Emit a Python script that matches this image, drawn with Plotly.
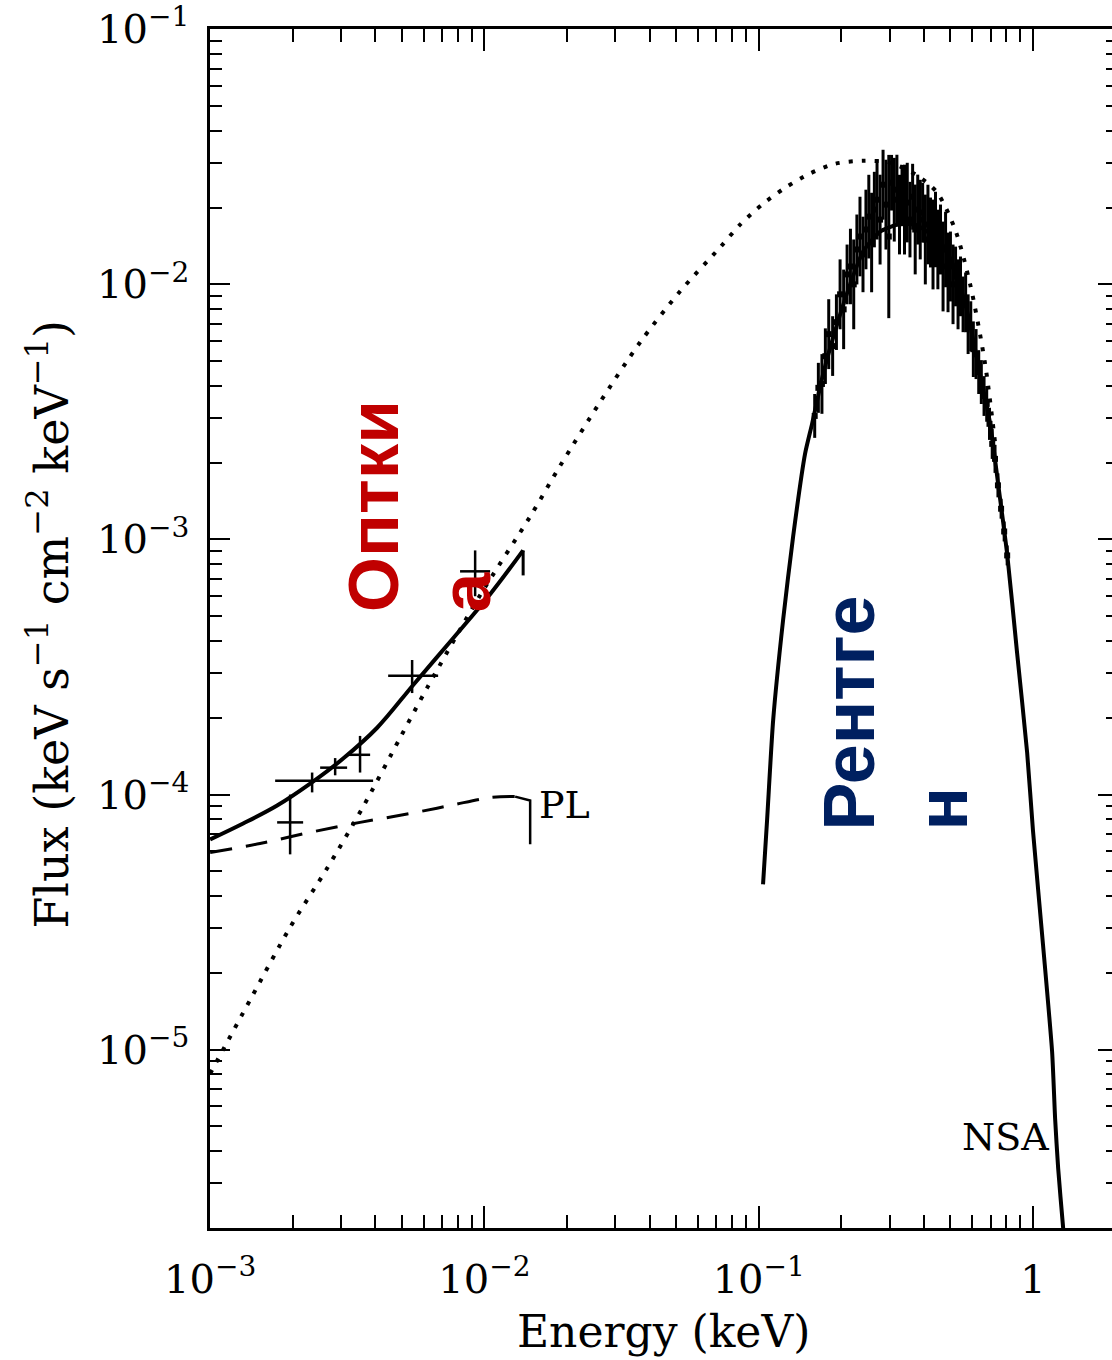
import numpy as np
import plotly.graph_objects as go

# ---------------- data (energy in keV, flux in keV s^-1 cm^-2 keV^-1) ----------------
# optical photometry points with bin / error bounds
opt_energy = [2.354e-3, 1.957e-3, 2.856e-3, 3.52e-3, 5.45e-3, 9.25e-3]
opt_energy_lo = [1.726e-3, 1.755e-3, 2.518e-3, 3.158e-3, 4.457e-3, 8.15e-3]
opt_energy_hi = [3.928e-3, 2.183e-3, 3.158e-3, 3.831e-3, 6.78e-3, 1.049e-2]
opt_flux = [1.134e-4, 7.78e-5, 1.275e-4, 1.432e-4, 2.92e-4, 7.5e-4]
opt_flux_lo = [1.02e-4, 5.83e-5, 1.19e-4, 1.22e-4, 2.50e-4, 5.99e-4]
opt_flux_hi = [1.22e-4, 1.0e-4, 1.39e-4, 1.698e-4, 3.37e-4, 9.06e-4]

# X-ray spectrum: channel energies, fluxes and half error (dex)
xray_energy = [0.160, 0.165, 0.170, 0.175, 0.180, 0.186, 0.192, 0.198, 0.204, 0.210,
               0.216, 0.222, 0.228, 0.234, 0.240, 0.246, 0.252, 0.258, 0.264, 0.270,
               0.277, 0.284, 0.291, 0.298, 0.305, 0.312, 0.319, 0.326, 0.333, 0.340,
               0.348, 0.356, 0.364, 0.372, 0.380, 0.388, 0.396, 0.405, 0.414, 0.423,
               0.432, 0.441, 0.450, 0.460, 0.470, 0.480, 0.490, 0.500, 0.511, 0.522,
               0.533, 0.544, 0.556, 0.568, 0.580, 0.593, 0.606, 0.620, 0.634, 0.648,
               0.663, 0.678, 0.694, 0.710, 0.727, 0.745, 0.765, 0.785, 0.805]
xray_flux = [0.00305, 0.00393, 0.00407, 0.00523, 0.00638, 0.00573, 0.00711, 0.00914, 0.00798, 0.01094,
             0.01175, 0.01000, 0.01370, 0.01540, 0.01310, 0.01641, 0.01843, 0.01459, 0.01964, 0.02147,
             0.01794, 0.02458, 0.02054, 0.01540, 0.02503, 0.02147, 0.02350, 0.01877, 0.02246, 0.01964,
             0.02092, 0.01794, 0.02206, 0.01641, 0.01964, 0.01794, 0.01911, 0.01499, 0.01716, 0.01597,
             0.01433, 0.01641, 0.01370, 0.01499, 0.01175, 0.01370, 0.01114, 0.01175, 0.01000, 0.01074,
             0.00914, 0.00982, 0.00835, 0.00850, 0.00698, 0.00685, 0.00557, 0.00533, 0.00453, 0.00414,
             0.00365, 0.00340, 0.00284, 0.00237, 0.00207, 0.00163, 0.00132, 0.001075, 0.000866]
xray_err_dex = [0.086, 0.098, 0.117, 0.109, 0.137, 0.117, 0.109, 0.137, 0.156, 0.117,
                0.148, 0.176, 0.137, 0.156, 0.148, 0.156, 0.164, 0.195, 0.148, 0.156,
                0.176, 0.137, 0.176, 0.320, 0.109, 0.164, 0.137, 0.156, 0.117, 0.176,
                0.156, 0.148, 0.129, 0.176, 0.137, 0.156, 0.117, 0.176, 0.156, 0.137,
                0.176, 0.148, 0.156, 0.137, 0.176, 0.148, 0.156, 0.137, 0.156, 0.117,
                0.137, 0.117, 0.109, 0.117, 0.117, 0.098, 0.109, 0.098, 0.086, 0.086,
                0.078, 0.070, 0.063, 0.059, 0.055, 0.047, 0.039, 0.039, 0.039]

# model curves
# combined optical model (power law + thermal)
optmod_energy = [1.0e-3, 1.319e-3, 1.755e-3, 2.316e-3, 3.054e-3, 4.063e-3, 5.50e-3, 7.69e-3, 1.049e-2, 1.384e-2]
optmod_flux = [6.67e-5, 7.70e-5, 9.06e-5, 1.104e-4, 1.384e-4, 1.828e-4, 2.69e-4, 4.10e-4, 6.10e-4, 9.06e-4]
optmod_end_energy = [1.384e-2, 1.384e-2]
optmod_end_flux = [9.06e-4, 7.23e-4]

# power-law component (PL)
pl_energy = [1.0e-3, 1.52e-3, 2.316e-3, 3.52e-3, 5.36e-3, 7.50e-3, 1.049e-2, 1.294e-2]
pl_flux = [5.93e-5, 6.43e-5, 7.11e-5, 7.78e-5, 8.43e-5, 9.06e-5, 9.73e-5, 9.82e-5]
pl_end_energy = [1.294e-2, 1.468e-2, 1.468e-2]
pl_end_flux = [9.82e-5, 9.48e-5, 6.38e-5]

# unabsorbed atmosphere model
nsa_energy = [1.0e-3, 1.399e-3, 1.957e-3, 2.67e-3, 3.58e-3, 4.93e-3, 6.18e-3, 9.64e-3, 1.468e-2,
              1.888e-2, 2.642e-2, 3.695e-2, 5.17e-2, 7.23e-2, 8.55e-2, 0.1037, 0.1248, 0.1539,
              0.1899, 0.2402, 0.3013, 0.378, 0.447, 0.520, 0.590, 0.669, 0.728]
nsa_flux = [8.06e-6, 1.567e-5, 3.02e-5, 5.14e-5, 8.81e-5, 1.671e-4, 2.62e-4, 6.04e-4, 1.230e-3,
            1.945e-3, 3.46e-3, 5.93e-3, 9.40e-3, 1.396e-2, 1.714e-2, 2.07e-2, 2.39e-2, 2.72e-2,
            2.97e-2, 3.05e-2, 3.00e-2, 2.67e-2, 2.29e-2, 1.64e-2, 1.0e-2, 4.87e-3, 2.37e-3]

# absorbed atmosphere model (NSA) folded through X-ray band
xmod_energy = [0.1037, 0.1073, 0.1129, 0.1227, 0.1335, 0.1476, 0.1565, 0.1717, 0.1932, 0.2154,
               0.2402, 0.2771, 0.3196, 0.3717, 0.4584, 0.5112, 0.5752, 0.641, 0.698, 0.746,
               0.8047, 0.875, 0.952, 1.0, 1.088, 1.174, 1.204, 1.235, 1.288, 1.30]
xmod_flux = [4.45e-5, 7.98e-5, 1.96e-4, 4.83e-4, 1.028e-3, 2.17e-3, 2.84e-3, 4.45e-3, 6.98e-3, 1.0e-2,
             1.345e-2, 1.61e-2, 1.714e-2, 1.714e-2, 1.472e-2, 1.197e-2, 7.85e-3, 4.45e-3, 2.84e-3, 1.655e-3,
             8.81e-4, 3.59e-4, 1.46e-4, 7.2e-5, 2.57e-5, 9.8e-6, 5.37e-6, 3.43e-6, 2.0e-6, 1.8e-6]

# axis ticks
x_major = [1e-3, 1e-2, 1e-1, 1]
x_major_text = ["10<sup>\u22123</sup>", "10<sup>\u22122</sup>", "10<sup>\u22121</sup>", "1"]
y_major = [1e-5, 1e-4, 1e-3, 1e-2, 1e-1]
y_major_text = ["10<sup>\u22125</sup>", "10<sup>\u22124</sup>", "10<sup>\u22123</sup>",
                "10<sup>\u22122</sup>", "10<sup>\u22121</sup>"]
x_minor = [m * 10.0 ** p for p in (-3, -2, -1, 0) for m in range(2, 10)]
y_minor = [m * 10.0 ** p for p in (-6, -5, -4, -3, -2) for m in range(2, 10)]

# ---------------- figure ----------------
SERIF = "DejaVu Serif"
INK = "black"

fig = go.Figure()

# unabsorbed model (dotted)
fig.add_trace(go.Scatter(x=nsa_energy, y=nsa_flux, mode="lines",
                         line=dict(color=INK, width=4, dash="4px,9px", shape="spline", smoothing=0.8),
                         hoverinfo="skip", showlegend=False))

# power-law component (dashed)
fig.add_trace(go.Scatter(x=pl_energy, y=pl_flux, mode="lines",
                         line=dict(color=INK, width=3, dash="22px,14px", shape="spline", smoothing=1.0),
                         hoverinfo="skip", showlegend=False))
fig.add_trace(go.Scatter(x=pl_end_energy, y=pl_end_flux, mode="lines",
                         line=dict(color=INK, width=2.5),
                         hoverinfo="skip", showlegend=False))

# combined optical model
fig.add_trace(go.Scatter(x=optmod_energy, y=optmod_flux, mode="lines",
                         line=dict(color=INK, width=4, shape="spline", smoothing=1.0),
                         hoverinfo="skip", showlegend=False))
fig.add_trace(go.Scatter(x=optmod_end_energy, y=optmod_end_flux, mode="lines",
                         line=dict(color=INK, width=3),
                         hoverinfo="skip", showlegend=False))

# absorbed X-ray model
fig.add_trace(go.Scatter(x=xmod_energy, y=xmod_flux, mode="lines",
                         line=dict(color=INK, width=4, shape="spline", smoothing=0.6),
                         hoverinfo="skip", showlegend=False))

# X-ray spectrum with error bars
xf = np.array(xray_flux)
xd = np.array(xray_err_dex)
fig.add_trace(go.Scatter(
    x=xray_energy, y=xray_flux, mode="markers",
    marker=dict(color=INK, size=6, symbol="square"),
    error_y=dict(type="data", symmetric=False,
                 array=xf * (10 ** xd - 1), arrayminus=xf * (1 - 10 ** (-xd)),
                 color=INK, thickness=3, width=0),
    error_x=dict(type="percent", value=1.6, color=INK, thickness=3, width=0),
    hoverinfo="skip", showlegend=False))

# optical data crosses
oe = np.array(opt_energy)
of = np.array(opt_flux)
fig.add_trace(go.Scatter(
    x=opt_energy, y=opt_flux, mode="markers",
    marker=dict(color=INK, size=1),
    error_x=dict(type="data", symmetric=False,
                 array=np.array(opt_energy_hi) - oe, arrayminus=oe - np.array(opt_energy_lo),
                 color=INK, thickness=2.5, width=0),
    error_y=dict(type="data", symmetric=False,
                 array=np.array(opt_flux_hi) - of, arrayminus=of - np.array(opt_flux_lo),
                 color=INK, thickness=2.5, width=0),
    hoverinfo="skip", showlegend=False))

# carrier trace for the right-hand tick axis
fig.add_trace(go.Scatter(x=opt_energy[:1], y=opt_flux[:1], yaxis="y2", mode="markers",
                         marker=dict(opacity=0), hoverinfo="skip", showlegend=False))

y_range = [np.log10(2e-6), -0.999]
tick_font = dict(family=SERIF, size=40, color=INK)

fig.update_layout(
    width=1112, height=1360,
    margin=dict(l=210, r=0, t=24, b=132),
    paper_bgcolor="white", plot_bgcolor="white",
    font=dict(family=SERIF, color=INK),
    xaxis=dict(
        type="log", range=[-3.0005, 0.288],
        showline=True, linecolor=INK, linewidth=2.5, mirror="ticks",
        showgrid=False, zeroline=False,
        ticks="inside", ticklen=22, tickwidth=2, tickcolor=INK,
        tickmode="array", tickvals=x_major, ticktext=x_major_text,
        minor=dict(tickmode="array", tickvals=x_minor, ticks="inside", ticklen=13,
                   tickwidth=2, tickcolor=INK, showgrid=False),
        tickfont=tick_font, ticklabelstandoff=14, ticklabeloverflow="allow",
    ),
    yaxis=dict(
        type="log", range=y_range,
        showline=True, linecolor=INK, linewidth=2.5, mirror=False,
        showgrid=False, zeroline=False,
        ticks="inside", ticklen=20, tickwidth=2, tickcolor=INK,
        tickmode="array", tickvals=y_major, ticktext=y_major_text,
        minor=dict(tickmode="array", tickvals=y_minor, ticks="inside", ticklen=12,
                   tickwidth=2, tickcolor=INK, showgrid=False),
        tickfont=tick_font, ticklabelstandoff=10, ticklabeloverflow="allow",
    ),
    yaxis2=dict(
        type="log", range=y_range, overlaying="y", side="right", anchor="x",
        showline=False, showgrid=False, zeroline=False, showticklabels=False,
        ticks="inside", ticklen=14, tickwidth=2, tickcolor=INK,
        tickmode="array", tickvals=y_major,
        minor=dict(tickmode="array", tickvals=y_minor, ticks="inside", ticklen=6,
                   tickwidth=2, tickcolor=INK, showgrid=False),
    ),
    annotations=[
        dict(text="Energy (keV)", xref="paper", yref="paper", x=0.5033, y=-0.0863,
             showarrow=False, font=dict(family=SERIF, size=44, color=INK),
             xanchor="center", yanchor="middle"),
        dict(text="Flux (keV s<sup>\u22121</sup> cm<sup>\u22122</sup> keV<sup>\u22121</sup>)",
             xref="paper", yref="paper", x=-0.1796, y=0.5033, textangle=-90,
             showarrow=False, font=dict(family=SERIF, size=46, color=INK),
             xanchor="center", yanchor="middle"),
        dict(text="PL", xref="paper", yref="paper", x=0.3625, y=0.353,
             showarrow=False, font=dict(family=SERIF, size=38, color=INK),
             xanchor="left", yanchor="middle"),
        dict(text="NSA", xref="paper", yref="paper", x=0.8315, y=0.0756,
             showarrow=False, font=dict(family=SERIF, size=38, color=INK),
             xanchor="left", yanchor="middle"),
        dict(text="Оптки<br>а", xref="paper", yref="paper", x=0.2317, y=0.602,
             textangle=-90, align="left", showarrow=False,
             font=dict(family="Liberation Sans", size=71, color="#C00000", weight="bold"),
             xanchor="center", yanchor="middle"),
        dict(text="Рентге<br>н", xref="paper", yref="paper", x=0.7605, y=0.430,
             textangle=-90, align="left", showarrow=False,
             font=dict(family="Liberation Sans", size=72, color="#002060", weight="bold"),
             xanchor="center", yanchor="middle"),
    ],
)

fig.write_html("out.html")
